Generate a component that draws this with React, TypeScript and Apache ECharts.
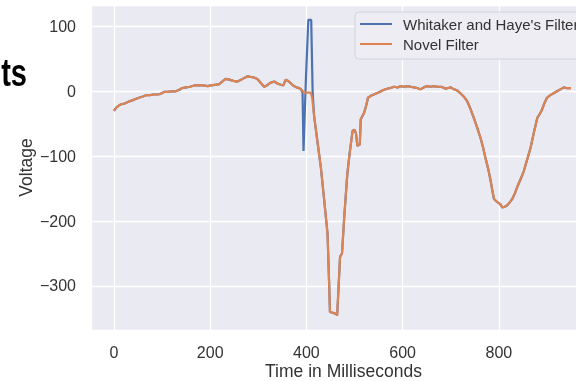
import React, { useEffect, useRef } from "react";
import * as echarts from "echarts";

const novelTime = [
  0, 5, 10, 15, 22, 30, 38, 45, 52, 60, 67, 75, 82, 90, 97, 104, 112, 120, 128, 135,
  142, 150, 158, 167, 175, 185, 195, 201, 210, 219, 225, 232, 240, 248, 257, 265, 272, 278, 285, 292,
  298, 304, 312, 318, 325, 333, 340, 347, 352, 357, 362, 368, 374, 380, 388, 395, 403, 409, 412, 416,
  423, 430, 437, 444, 447, 449, 453, 457, 461, 464, 467, 470, 474, 479, 485, 490, 496, 500, 503, 506,
  511, 513, 520, 525, 528, 534, 540, 550, 560, 568, 575, 582, 590, 596, 603, 610, 617, 624, 630, 637,
  644, 651, 658, 665, 672, 679, 684, 689, 695, 700, 707, 714, 720, 727, 734, 741, 748, 755, 762, 767,
  772, 778, 783, 787, 790, 797, 803, 807, 812, 817, 822, 828, 833, 838, 845, 852, 859, 866, 873, 880,
  885, 890, 895, 900, 907, 914, 921, 928, 935, 940, 945, 950,
];
const novelVoltage = [
  -30, -25, -22, -20, -19, -16, -14, -12, -10, -8, -6, -6, -5, -5, -4, -1, -1, 0, 0, 2,
  5, 6, 7, 9, 9, 9, 8, 9, 10, 11, 15, 19, 18, 16, 15, 18, 21, 23, 22, 21,
  19, 14, 7, 9, 13, 15, 12, 10, 9, 18, 16, 12, 8, 6, 4, -2, -2, -2, -10, -38,
  -78, -117, -168, -220, -290, -340, -341, -342, -343, -345, -300, -255, -250, -190, -128, -95, -61, -59, -65, -84,
  -82, -43, -33, -20, -10, -7, -5, -2, 2, 4, 5, 7, 6, 8, 7, 8, 7, 6, 5, 3,
  6, 8, 7, 8, 7, 7, 6, 4, 5, 6, 3, 1, -3, -8, -15, -27, -41, -56, -72, -86,
  -102, -120, -138, -155, -166, -171, -174, -179, -178, -176, -172, -166, -158, -148, -136, -123, -105, -87, -63, -41,
  -35, -28, -18, -10, -6, -3, 0, 3, 6, 5, 5, 5,
];
// Whitaker and Haye's filter: identical to the novel filter except around the spike
const spikeTime = [392, 394, 399, 404, 410, 413];
const spikeVoltage = [-2, -92, 20, 110, 110, -2];

const xTicks = [0, 200, 400, 600, 800];
const yTicks = [-300, -200, -100, 0, 100];

const FONT = "'Liberation Sans', Arial, Helvetica, sans-serif";

export default function App() {
  const ref = useRef<HTMLDivElement>(null);
  useEffect(() => {
    if (!ref.current) return;
    const chart = echarts.init(ref.current, undefined, { renderer: "svg" });
    const novel = novelTime.map((t, i) => [t, novelVoltage[i]]);
    const spikeStart = spikeTime[0];
    const spikeEnd = spikeTime[spikeTime.length - 1];
    const whitaker = [
      ...novel.filter((p) => p[0] < spikeStart),
      ...spikeTime.map((t, i) => [t, spikeVoltage[i]]),
      ...novel.filter((p) => p[0] > spikeEnd),
    ];
    const fmtMinus = (v: number) => (v < 0 ? "\u2212" + Math.abs(v) : String(v));
    chart.setOption({
      animation: false,
      textStyle: { fontFamily: FONT },
      grid: {
        left: 91,
        top: 5,
        width: 505,
        height: 325,
        outerBoundsMode: "none",
        containLabel: false,
        show: true,
        backgroundColor: "#EAEAF2",
        borderWidth: 0,
      },
      graphic: [
        {
          type: "text",
          x: 27,
          y: 92,
          scaleY: 1.35,
          style: {
            text: "ts",
            x: 0,
            y: 0,
            align: "right",
            verticalAlign: "bottom",
            font: `bold 29px ${FONT}`,
            fill: "#000",
          },
        },
      ],
      legend: {
        orient: "vertical",
        left: 355,
        top: 12,
        backgroundColor: "#EDEDF3",
        borderColor: "#D2D2D8",
        borderWidth: 1,
        borderRadius: 4,
        padding: [4, 8, 7, 5],
        icon: "rect",
        itemWidth: 32,
        itemHeight: 2,
        itemGap: 4,
        textStyle: { fontSize: 15, lineHeight: 16, color: "#333", fontFamily: FONT, padding: [0, 0, 0, 6] },
        data: ["Whitaker and Haye's Filter", "Novel Filter"],
      },
      xAxis: {
        type: "value",
        min: -47.75,
        max: 1002,
        minInterval: 200,
        maxInterval: 200,
        axisLine: { show: false },
        axisTick: { show: false },
        splitLine: { show: true, lineStyle: { color: "#FFFFFF", width: 1.3 } },
        axisLabel: {
          fontSize: 16,
          color: "#333",
          margin: 14,
          fontFamily: FONT,
          formatter: (v: number) => (xTicks.includes(v) ? String(v) : ""),
        },
        name: "Time in Milliseconds",
        nameLocation: "middle",
        nameMoveOverlap: false,
        nameGap: 32,
        nameTextStyle: { fontSize: 17.5, lineHeight: 18, color: "#333", fontFamily: FONT },
      },
      yAxis: {
        type: "value",
        min: -368,
        max: 133,
        minInterval: 100,
        maxInterval: 100,
        axisLine: { show: false },
        axisTick: { show: false },
        splitLine: { show: true, lineStyle: { color: "#FFFFFF", width: 1.3 } },
        axisLabel: {
          fontSize: 16,
          color: "#333",
          margin: 15,
          fontFamily: FONT,
          formatter: (v: number) => (yTicks.includes(v) ? fmtMinus(v) : ""),
        },
        name: "Voltage",
        nameLocation: "middle",
        nameMoveOverlap: false,
        nameRotate: 90,
        nameGap: 56,
        nameTextStyle: { fontSize: 17.5, lineHeight: 18, color: "#333", fontFamily: FONT },
      },
      series: [
        {
          name: "Whitaker and Haye's Filter",
          type: "line",
          data: whitaker,
          symbol: "none",
          lineStyle: { color: "#4C72B0", width: 2.2 },
          itemStyle: { color: "#4C72B0" },
          z: 2,
        },
        {
          name: "Novel Filter",
          type: "line",
          data: novel,
          symbol: "none",
          lineStyle: { color: "#DD8452", width: 2.2 },
          itemStyle: { color: "#DD8452" },
          z: 3,
        },
      ],
    });
    return () => chart.dispose();
  }, []);
  return (
    <div
      ref={ref}
      style={{ position: "fixed", left: 0, top: 0, width: 576, height: 381 }}
    />
  );
}
